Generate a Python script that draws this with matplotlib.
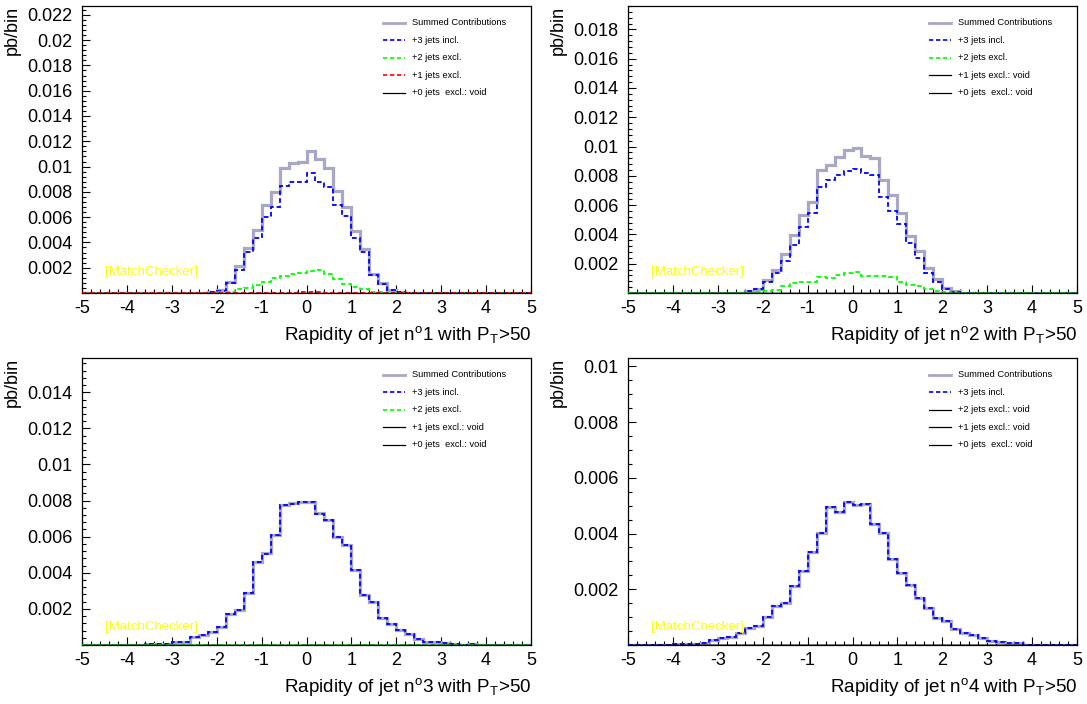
import numpy as np
import matplotlib
matplotlib.use("Agg")
import matplotlib.pyplot as plt
from matplotlib.ticker import MultipleLocator, FuncFormatter

plt.rcParams['font.family'] = ['Liberation Sans', 'DejaVu Sans']
plt.rcParams['axes.unicode_minus'] = False
plt.rcParams['mathtext.default'] = 'regular'

# 50 bins from -5 to 5 (width 0.2); values in units of 1e-4 pb/bin
edges = np.linspace(-5, 5, 51)
SCALE = 1e-4

def pad(start, vals):
    a = [0.0] * 50
    for k, v in enumerate(vals):
        a[start + k] = v
    return a

# Panel 1 : jet 1
p1_3incl = pad(13, [0.2, 0.5, 1.8, 7.6, 18.2, 32.2, 43.2, 60.4, 68.3, 84.9, 88.1, 87.5, 94.7,
                    87.5, 83.6, 69.6, 60.9, 43.8, 32.2, 14.2, 7.1, 2.4, 0.5, 0.2])
p1_2excl = pad(14, [0.2, 0.5, 1.1, 2.9, 3.7, 6.3, 9.0, 11.6, 13.7, 14.8, 16.1, 17.4, 18.2,
                    15.0, 11.1, 6.9, 5.0, 2.9, 1.1, 0.5, 0.2])
p1_1excl = pad(20, [0.1, 0.2, 0.3, 0.3, 0.4, 0.5, 0.4, 0.3, 0.2, 0.1])
p1_0excl = [0.0] * 50

# Panel 2 : jet 2
p2_3incl = pad(12, [0.3, 1.1, 2.5, 7.7, 13.9, 22.1, 32.8, 45.3, 54.4, 72.6, 77.1, 80.5, 83.5,
                    84.4, 82.1, 80.5, 65.7, 56.0, 46.9, 33.9, 24.1, 13.9, 7.7, 2.5, 0.9, 0.3])
p2_2excl = pad(13, [0.3, 0.5, 1.1, 2.0, 4.8, 6.6, 7.7, 7.5, 11.1, 10.5, 12.3, 13.9, 14.3,
                    11.6, 11.6, 11.6, 11.1, 7.7, 5.2, 4.8, 3.0, 1.6, 0.7, 0.3])
p2_1excl = [0.0] * 50
p2_0excl = [0.0] * 50

# Panel 3 : jet 3
p3_3incl = pad(5, [0.1, 0.2, 0.3, 0.4, 0.4, 1.5, 1.9, 4.6, 5.6, 7.4, 10.2, 17.2, 19.4, 28.7,
                   45.9, 50.6, 61.1, 77.4, 78.3, 79.1, 79.1, 72.8, 69.1, 59.6, 55.6, 41.3,
                   27.8, 23.7, 14.8, 11.7, 8.3, 6.1, 3.1, 1.9, 1.5, 0.9, 0.6, 0.1, 0.7, 0.05])
p3_2excl = pad(18, [0.05, 0.1, 0.1, 0.1, 0.1, 0.1, 0.1, 0.1, 0.1, 0.1, 0.05])
p3_1excl = [0.0] * 50
p3_0excl = [0.0] * 50

# Panel 4 : jet 4
p4_3incl = pad(4, [0.1, 0.2, 0.3, 0.5, 0.8, 1.8, 2.6, 3.0, 4.4, 6.0, 6.9, 10.2, 14.0, 15.2,
                   21.3, 26.7, 33.2, 40.3, 49.7, 47.9, 51.2, 50.3, 50.5, 43.3, 40.3, 30.8,
                   25.7, 21.5, 16.8, 13.2, 9.6, 8.6, 5.7, 4.4, 3.6, 2.6, 1.6, 1.0, 0.8, 0.6, 0.1])
p4_2excl = [0.0] * 50
p4_1excl = [0.0] * 50
p4_0excl = [0.0] * 50

jet_numbers = [1, 2, 3, 4]
y_max = [0.0227, 0.0196, 0.0159, 0.0103]
y_minor = [0.0004, 0.0004, 0.0004, 0.0005]
legend_labels = [
    ["Summed Contributions", "+3 jets incl.", "+2 jets excl.", "+1 jets excl.", "+0 jets  excl.: void"],
    ["Summed Contributions", "+3 jets incl.", "+2 jets excl.", "+1 jets excl.: void", "+0 jets  excl.: void"],
    ["Summed Contributions", "+3 jets incl.", "+2 jets excl.", "+1 jets excl.: void", "+0 jets  excl.: void"],
    ["Summed Contributions", "+3 jets incl.", "+2 jets excl.: void", "+1 jets excl.: void", "+0 jets  excl.: void"],
]
panels = [
    [p1_3incl, p1_2excl, p1_1excl, p1_0excl],
    [p2_3incl, p2_2excl, p2_1excl, p2_0excl],
    [p3_3incl, p3_2excl, p3_1excl, p3_0excl],
    [p4_3incl, p4_2excl, p4_1excl, p4_0excl],
]

SUM_COLOR = '#a8a8c6'
comp_colors = ['#0000ff', '#00ff00', '#ff0000', '#000000']
DASH = (0, (2.6, 1.6))

W, H = 1087, 704
fig = plt.figure(figsize=(W / 100, H / 100), dpi=100)

ax_left_px = [82, 628, 82, 628]
ax_top_px = [6, 6, 358, 358]
ax_w_px, ax_h_px = 449, 287
mc_y = [0.073, 0.073, 0.063, 0.063]

for k in range(4):
    l = ax_left_px[k] / W
    b = (H - ax_top_px[k] - ax_h_px) / H
    ax = fig.add_axes([l, b, ax_w_px / W, ax_h_px / H])
    comps = [np.array(c) * SCALE for c in panels[k]]
    total = comps[0] + comps[1] + comps[2] + comps[3]

    ax.stairs(total, edges, baseline=None, color=SUM_COLOR, lw=2.3, zorder=2)
    void = [lab.endswith('void') for lab in legend_labels[k][1:]]
    for j in range(4):
        if void[j]:
            ax.stairs(comps[j], edges, baseline=None, color='black', lw=1.0, zorder=3)
        else:
            ax.stairs(comps[j], edges, baseline=None, color=comp_colors[j], lw=1.3,
                      linestyle=DASH, zorder=3)

    ax.set_xlim(-5, 5)
    ax.set_ylim(0, y_max[k])
    ax.xaxis.set_major_locator(MultipleLocator(1))
    ax.xaxis.set_minor_locator(MultipleLocator(0.2))
    ax.yaxis.set_major_locator(MultipleLocator(0.002))
    ax.yaxis.set_minor_locator(MultipleLocator(y_minor[k]))
    ax.xaxis.set_major_formatter(FuncFormatter(lambda v, p: '%g' % round(v, 6)))
    ax.yaxis.set_major_formatter(FuncFormatter(lambda v, p: '' if abs(v) < 1e-9 else '%g' % round(v, 6)))
    ax.tick_params(axis='both', which='both', direction='in', top=False, right=False,
                   labelsize=13, width=0.8)
    ax.tick_params(axis='both', which='major', length=6)
    ax.tick_params(axis='both', which='minor', length=3)
    ax.tick_params(axis='x', pad=5)
    ax.tick_params(axis='y', pad=7)
    for s in ax.spines.values():
        s.set_linewidth(0.9)

    ax.text(1.0, -0.108, r'Rapidity of jet n$^{o}$%d with P$_{T}$>50' % jet_numbers[k],
            transform=ax.transAxes, ha='right', va='top', fontsize=13.6)
    ax.text(-0.156, 1.0, 'pb/bin', rotation=90, transform=ax.transAxes,
            ha='center', va='top', fontsize=13)
    ax.text(0.051, mc_y[k], '[MatchChecker]', transform=ax.transAxes, color='#ffff00',
            ha='left', va='center', fontsize=9.5)

    # legend
    ys = [0.941, 0.880, 0.819, 0.758, 0.697]
    for j, lab in enumerate(legend_labels[k]):
        y = ys[j]
        if j == 0:
            ax.plot([0.670, 0.719], [y, y], transform=ax.transAxes, color=SUM_COLOR, lw=2.0)
        elif lab.endswith('void'):
            ax.plot([0.670, 0.719], [y, y], transform=ax.transAxes, color='black', lw=0.9)
        else:
            ax.plot([0.670, 0.719], [y, y], transform=ax.transAxes, color=comp_colors[j - 1],
                    lw=1.2, linestyle=DASH)
        ax.text(0.735, y, lab, transform=ax.transAxes, ha='left', va='center', fontsize=6.7)

fig.savefig('out.png', dpi=100)
